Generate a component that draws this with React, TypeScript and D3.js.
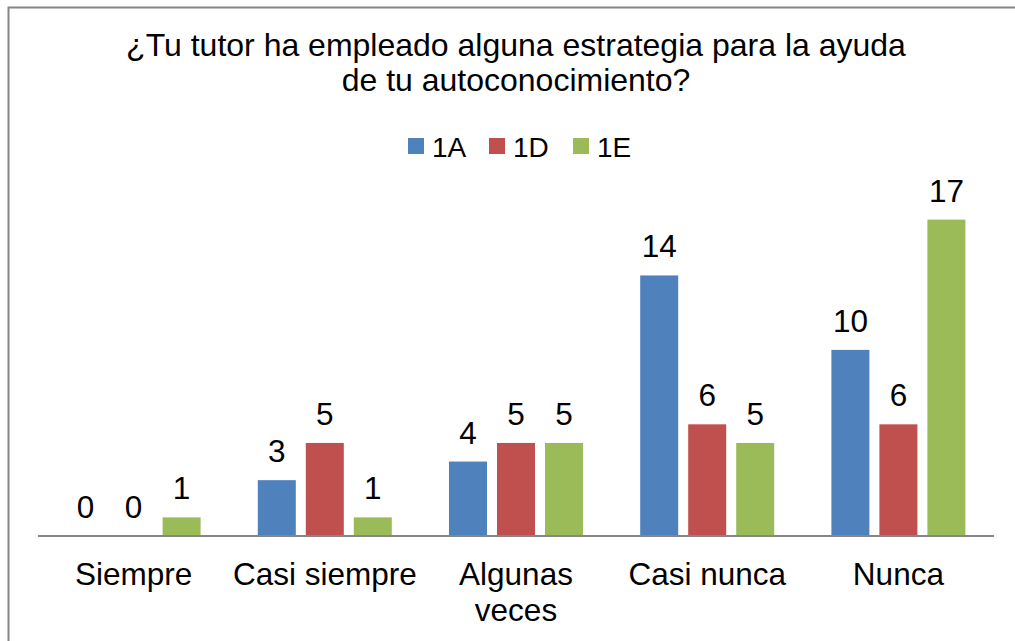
import React, { useEffect, useRef } from 'react';
import * as d3 from 'd3';

const categories = ['Siempre', 'Casi siempre', 'Algunas veces', 'Casi nunca', 'Nunca'];
const seriesNames = ['1A', '1D', '1E'];
const values1A = [0, 3, 4, 14, 10];
const values1D = [0, 5, 5, 6, 6];
const values1E = [1, 1, 5, 5, 17];
const colors = ['#4f81bd', '#c0504d', '#9bbb59'];
const titleLines = ['¿Tu tutor ha empleado alguna estrategia para la ayuda', 'de tu autoconocimiento?'];

const App = () => {
  const svgRef = useRef<SVGSVGElement>(null);

  useEffect(() => {
    const width = 1015;
    const height = 641;
    const font = '"Liberation Sans", Arial, sans-serif';
    const svg = d3.select(svgRef.current);
    svg.selectAll('*').remove();

    // chart border (right/bottom edges fall outside the picture)
    svg.append('rect')
      .attr('x', 8.5).attr('y', 7.5)
      .attr('width', 1100).attr('height', 800)
      .attr('fill', '#fff')
      .attr('stroke', '#868686')
      .attr('stroke-width', 2);

    // title
    svg.append('text')
      .attr('text-anchor', 'middle')
      .attr('font-family', font)
      .attr('font-size', 32)
      .selectAll('tspan')
      .data(titleLines)
      .enter().append('tspan')
      .attr('x', 516)
      .attr('y', (d, i) => 56 + i * 35)
      .text(d => d);

    // legend
    const legendX = [408, 489, 573];
    const legend = svg.append('g');
    seriesNames.forEach((name, i) => {
      legend.append('rect')
        .attr('x', legendX[i]).attr('y', 138)
        .attr('width', 16).attr('height', 16)
        .attr('fill', colors[i]);
      legend.append('text')
        .attr('x', legendX[i] + 24).attr('y', 157)
        .attr('font-family', font)
        .attr('font-size', 28)
        .text(name);
    });

    const margin = { left: 38, right: 21, top: 201, bottom: 105 };
    const baseY = height - margin.bottom;
    const groupWidth = 134;

    const xScale = d3.scaleBand()
      .domain(categories)
      .range([margin.left, width - margin.right]);

    const xInner = d3.scaleBand()
      .domain(seriesNames)
      .range([0, groupWidth])
      .paddingInner(10 / 48);

    const yScale = d3.scaleLinear()
      .domain([0, 18])
      .range([baseY, margin.top]);

    const series = [values1A, values1D, values1E];
    const rows = categories.flatMap((c, ci) => series.map((vals, si) => ({
      cat: c, name: seriesNames[si], value: vals[ci], color: colors[si]
    })));

    const groupOffset = (xScale.bandwidth() - groupWidth) / 2;
    const bx = (d: any) => (xScale(d.cat) as number) + groupOffset + (xInner(d.name) as number);

    svg.append('g').selectAll('rect')
      .data(rows)
      .enter().append('rect')
      .attr('x', bx)
      .attr('y', d => yScale(d.value))
      .attr('width', xInner.bandwidth())
      .attr('height', d => baseY - yScale(d.value))
      .attr('fill', d => d.color);

    // value labels
    svg.append('g').selectAll('text')
      .data(rows)
      .enter().append('text')
      .attr('x', d => bx(d) + xInner.bandwidth() / 2)
      .attr('y', d => yScale(d.value) - 18)
      .attr('text-anchor', 'middle')
      .attr('font-family', font)
      .attr('font-size', 31.5)
      .text(d => d.value);

    // x axis line
    svg.append('line')
      .attr('x1', margin.left).attr('x2', width - margin.right)
      .attr('y1', baseY).attr('y2', baseY)
      .attr('stroke', '#868686')
      .attr('stroke-width', 2);

    // category labels (wrap "Algunas veces")
    const labelLines: Record<string, string[]> = { 'Algunas veces': ['Algunas', 'veces'] };
    categories.forEach(c => {
      const lines = labelLines[c] || [c];
      const t = svg.append('text')
        .attr('text-anchor', 'middle')
        .attr('font-family', font)
        .attr('font-size', 31.5);
      lines.forEach((l, i) => {
        t.append('tspan')
          .attr('x', (xScale(c) as number) + xScale.bandwidth() / 2)
          .attr('y', 585 + i * 36)
          .text(l);
      });
    });
  }, []);

  return (
    <svg ref={svgRef} width={1015} height={641}
      style={{ position: 'absolute', left: 0, top: 0, background: '#fff' }} />
  );
};

export default App;
